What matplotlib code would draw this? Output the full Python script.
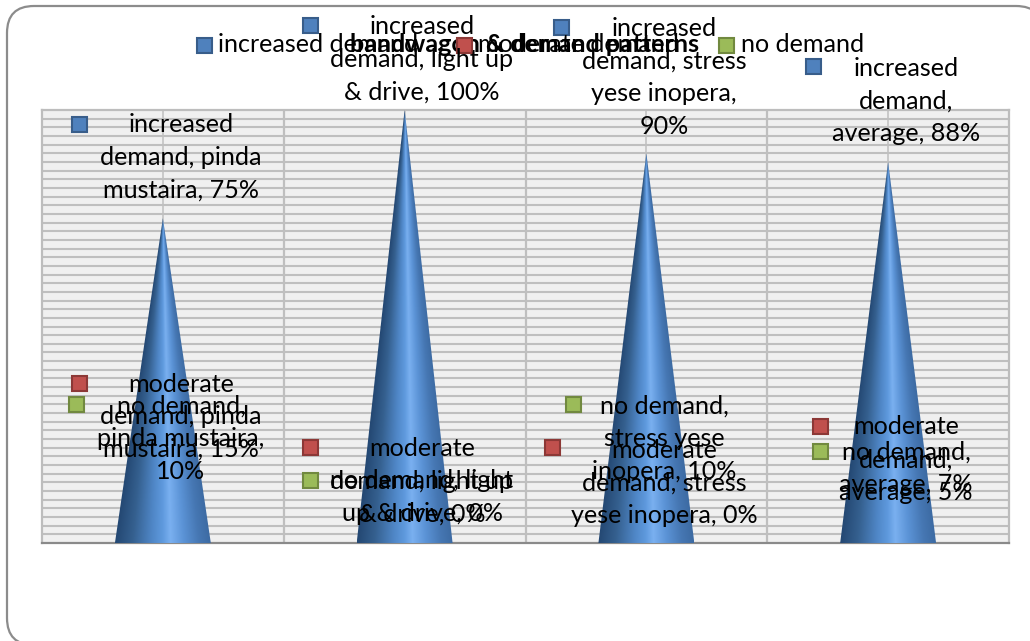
import numpy as np
import matplotlib
matplotlib.use("Agg")
import matplotlib.pyplot as plt
from matplotlib.colors import LinearSegmentedColormap
from matplotlib.patches import FancyBboxPatch, Polygon, Rectangle

# ---- data ----
categories = ["pinda mustaira", "light up & drive", "stress yese inopera", "average"]
series_names = ["increased demand", "moderate demand", "no demand"]
increased = [75, 100, 90, 88]
moderate = [15, 0, 0, 5]
no_demand = [10, 0, 10, 7]
title = "bandwagon & demand patterns"

# ---- styling / layout ----
W, H = 1030, 641
plt.rcParams["font.family"] = ["Lato", "DejaVu Sans"]
FS = 18.1
fills = ["#4f81bd", "#c0504d", "#9bbb59"]
edges = ["#385d8a", "#8c3836", "#71893f"]
values = [increased, moderate, no_demand]

# words per line for each data label, by series then category
word_breaks = [
    [[1, 2, 2], [1, 3, 3], [1, 2, 2, 1], [1, 1, 2]],
    [[1, 2, 2], [1, 3, 3], [1, 2, 3], [1, 1, 2]],
    [[2, 2, 1], [3, 4], [2, 2, 2], [2, 2]],
]
# text centre x, first-line centre y, marker centre (pixels)
label_pos = [
    [(181, 125, 79, 124), (422, 27, 310, 25), (664, 28, 561, 27), (906, 68, 813, 66)],
    [(181, 384, 79, 383), (422, 449, 310, 447), (664, 450, 552, 447), (906, 427, 820, 426)],
    [(181, 406, 76, 404), (422, 481, 310, 480), (664, 406, 573, 404), (906, 452, 820, 451)],
]
LINE_H = 32.7
legend_pos = [(204, 218), (464, 478), (726, 741)]
LEGEND_Y = 45

fig = plt.figure(figsize=(W / 100, H / 100), dpi=100, facecolor="white")

# overlay in pixel coordinates, for chart frame, labels and legend
ov = fig.add_axes([0, 0, 1, 1], zorder=3)
ov.set_xlim(0, W)
ov.set_ylim(H, 0)
ov.axis("off")
ov.patch.set_alpha(0)

under = fig.add_axes([0, 0, 1, 1], zorder=0)
under.set_xlim(0, W)
under.set_ylim(H, 0)
under.axis("off")
under.add_patch(FancyBboxPatch((7, 6), 1036, 639, boxstyle="round,pad=0,rounding_size=27",
                               fc="white", ec="#8c8c8c", lw=1.6))

# plot area
ax = fig.add_axes([42 / W, 1 - 543 / H, 967 / W, 433 / H], zorder=1)
ax.set_xlim(0, 4)
ax.set_ylim(0, 1)
ax.set_facecolor("#f0f0f0")
ax.set_xticks([])
ax.set_yticks([])
for s in ax.spines.values():
    s.set_color("#bdbdbd")
    s.set_linewidth(1.6)
ax.spines["bottom"].set_color("#8a8a8a")
for yv in np.arange(0.02, 1.0, 0.02):
    ax.axhline(yv, color="#bfbfbf", lw=1.5, zorder=1)
for xv in np.arange(0.5, 4, 0.5):
    ax.axvline(xv, color="#bfbfbf", lw=1.6 if xv == int(xv) else 1.1, zorder=1.5)

# cones
cone_cmap = LinearSegmentedColormap.from_list(
    "cone",
    [(0.0, "#244873"), (0.18, "#35608f"), (0.38, "#4f86c6"), (0.5, "#5f9ade"),
     (0.58, "#7ab0f0"), (0.72, "#5b93d6"), (0.88, "#4677b3"), (1.0, "#3d6ba3")],
)
HALF = 48 / 242
for i, v in enumerate(increased):
    h = v / 100
    xc = i + 0.5
    xs = np.linspace(xc - HALF, xc + HALF, 300)
    ys = np.linspace(0, h, 500)
    X, Y = np.meshgrid(xs, ys)
    half_at = np.maximum(HALF * (1 - Y / h), 1e-4)
    U = np.clip((X - xc) / half_at * 0.5 + 0.5, 0, 1)
    im = ax.imshow(U, extent=(xc - HALF, xc + HALF, 0, h), origin="lower", cmap=cone_cmap,
                   vmin=0, vmax=1, aspect="auto", zorder=3, interpolation="bilinear")
    poly = Polygon([(xc - HALF, 0), (xc, h), (xc + HALF, 0)], closed=True,
                   transform=ax.transData, fc="none", ec="none")
    ax.add_patch(poly)
    im.set_clip_path(poly)
ax.set_xlim(0, 4)
ax.set_ylim(0, 1)


def square(cx, cy, k):
    ov.add_patch(Rectangle((cx - 7.5, cy - 7.5), 15, 15, fc=fills[k], ec=edges[k], lw=1.5, zorder=4))


# title sits beneath the legend markers
ov.text(525, 44, title, fontsize=18, fontweight="bold", color="black", ha="center", va="center", zorder=3)

# legend
for k, name in enumerate(series_names):
    mx, tx = legend_pos[k]
    square(mx, LEGEND_Y, k)
    ov.text(tx, LEGEND_Y, name, fontsize=FS, color="black", ha="left", va="center", zorder=5)

# data labels
for k, name in enumerate(series_names):
    for c, cat in enumerate(categories):
        words = f"{name}, {cat}, {values[k][c]}%".split(" ")
        tx, ty, mx, my = label_pos[k][c]
        square(mx, my, k)
        pos = 0
        for ln, n in enumerate(word_breaks[k][c]):
            line = " ".join(words[pos:pos + n])
            pos += n
            ov.text(tx, ty + ln * LINE_H, line, fontsize=FS, color="black", ha="center", va="center", zorder=7)

fig.savefig("out.png", dpi=100, facecolor="white")
